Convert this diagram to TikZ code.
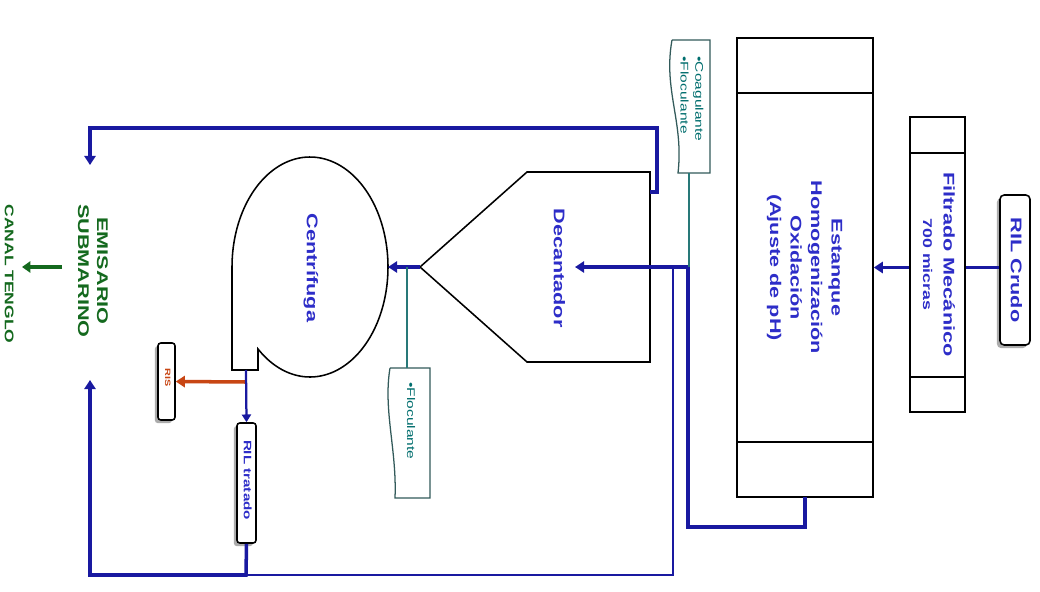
\documentclass[tikz,border=0pt]{standalone}
\usepackage{fontspec}
\setmainfont{Liberation Sans}
\usepackage{graphicx}
\usetikzlibrary{arrows.meta,shadows}
\definecolor{flow}{RGB}{25,25,160}
\definecolor{txtblue}{RGB}{45,45,200}
\definecolor{tealc}{RGB}{0,110,110}
\definecolor{stemc}{RGB}{40,120,120}
\definecolor{docc}{RGB}{50,90,90}
\definecolor{orangec}{RGB}{200,70,20}
\definecolor{greenc}{RGB}{20,105,30}
\newcommand\vt[3][c]{\rotatebox{-90}{\scalebox{1.4}[1]{#2\begin{tabular}{@{}#1@{}}#3\end{tabular}}}}
\newcommand\mainf{\fontsize{11}{14.6}\selectfont\bfseries\color{txtblue}}
\begin{document}
\begin{tikzpicture}[x=0.025cm,y=-0.025cm,
  box/.style={draw, line width=1.1pt, fill=white, inner sep=0pt},
  boxline/.style={draw, line width=1.1pt},
  docline/.style={draw=docc, line width=0.9pt, fill=white},
  shadowed/.style={general shadow={fill=gray!65, shadow xshift=-2.2pt, shadow yshift=-2.2pt}},
  flowline/.style={draw=flow, line width=2.5pt},
  thinflow/.style={draw=flow, line width=1pt},
  stem/.style={draw=stemc, line width=0.8pt},
  tip/.style={-{Triangle[length=6.5pt,width=8pt]}},
  lbl/.style={inner sep=0pt}]
\fill[white] (0,0) rectangle (1040,592);
\useasboundingbox (0,0) rectangle (1040,592);

% ---------- boxes ----------
\node[box, shadowed, rounded corners=3pt, minimum width=0.75cm, minimum height=3.75cm] (crudo) at (1015,270) {\vt{\mainf}{RIL Crudo}};

\node[box, minimum width=1.375cm, minimum height=7.375cm] (filt) at (937.5,264.5) {\vt{\mainf}{Filtrado Mecánico\\{\fontsize{9}{11}\selectfont 700 micras}}};
\draw[boxline] (910,153) -- (965,153);
\draw[boxline] (910,377) -- (965,377);

\node[box, minimum width=3.4cm, minimum height=11.475cm] (est) at (805,267.5) {\vt{\mainf}{Estanque\\Homogenización\\Oxidación\\(Ajuste de pH)}};
\draw[boxline] (737,93) -- (873,93);
\draw[boxline] (737,442) -- (873,442);

% Decantador
\draw[boxline, fill=white] (650,172) -- (527,172) -- (420,267) -- (527,362) -- (650,362) -- cycle;
\node[lbl] (dec) at (558,268) {\vt{\mainf}{Decantador}};
\coordinate (decApex) at (420,267);
\coordinate (decIn) at (575,267);
\coordinate (decTop) at (650,192);

% Centrifuga
\draw[boxline, fill=white] plot[domain=180:491.8, samples=90, smooth] ({310+78*cos(\x)},{267+110*sin(\x)}) -- (258,370) -- (232,370) -- cycle;
\node[lbl] (cen) at (311,268) {\vt{\mainf}{Centrífuga}};
\coordinate (cenR) at (388,267);
\coordinate (cenOut) at (246,370);

% dosing boxes
\draw[docline] (672,40) -- (710,40) -- (710,173) -- (678,173) .. controls (684,122) and (663,90) .. (672,40);
\node[lbl] (coag) at (691,99) {\vt[l]{\fontsize{7.9}{10.5}\selectfont\color{tealc}}{•Coagulante\\•Floculante}};
\coordinate (coagB) at (689,173);
\coordinate (coagJ) at (689,267);

\draw[docline] (390,368) -- (430,368) -- (430,498) -- (395,498) .. controls (397,450) and (383,410) .. (390,368);
\node[lbl] (floc) at (410,421) {\vt[l]{\fontsize{7.9}{10.5}\selectfont\color{tealc}}{•Floculante}};
\coordinate (flocT) at (407,368);
\coordinate (flocJ) at (407,267);

% outputs
\node[box, shadowed, rounded corners=2pt, minimum width=0.425cm, minimum height=1.925cm] (ris) at (166.5,381.5) {};
\node[lbl] at (167,378) {\vt{\fontsize{5.5}{6.5}\selectfont\bfseries\color{orangec}}{RIS}};
\node[box, shadowed, rounded corners=2pt, minimum width=0.475cm, minimum height=3cm] (trat) at (246.5,483) {};
\node[lbl] at (246.5,480) {\vt{\fontsize{7.7}{9}\selectfont\bfseries\color{txtblue}}{RIL tratado}};

\node[lbl] (emi) at (91.5,271) {\vt{\fontsize{11}{13.5}\selectfont\bfseries\color{greenc}}{EMISARIO\\SUBMARINO}};
\node[lbl] (canal) at (8,274) {\vt{\fontsize{8.9}{11}\selectfont\bfseries\color{greenc}}{CANAL TENGLO}};
\coordinate (emiTop) at (90,165);
\coordinate (emiBot) at (90,380);

% ---------- connectors ----------
\draw[flowline] (crudo.west |- est.east) -- (filt.east |- est.east);
\draw[flowline, tip] (filt.west |- est.east) -- (est.east);
\coordinate (estB) at (805,497);
\draw[flowline, tip] (estB) -- (805,527) -- (688,527) -- (688,267) -- (decIn);
\draw[thinflow] (673,267) -- (673,575) -- (246,575);
\draw[flowline, tip] (decTop) -- (657,192) -- (657,128) -- (90,128) -- (emiTop);
\draw[flowline, tip] (decApex) -- (cenR);
\draw[stem] (coagB) -- (coagJ);
\draw[stem] (flocT) -- (flocJ);
\draw[draw=orangec, line width=1pt] (cenOut) -- (246,382);
\draw[draw=orangec, line width=2.5pt, tip] (246,382) -- (ris.east);
\draw[flowline, line width=1.6pt, -{Triangle[length=5.5pt,width=6.5pt]}] (cenOut) -- (trat.north);
\draw[flowline, tip] (trat.south) -- (246,575) -- (90,575) -- (emiBot);
\draw[draw=greenc, line width=3pt, -{Triangle[length=6pt,width=8pt]}] (62,267) -- (22,267);
\end{tikzpicture}
\end{document}
